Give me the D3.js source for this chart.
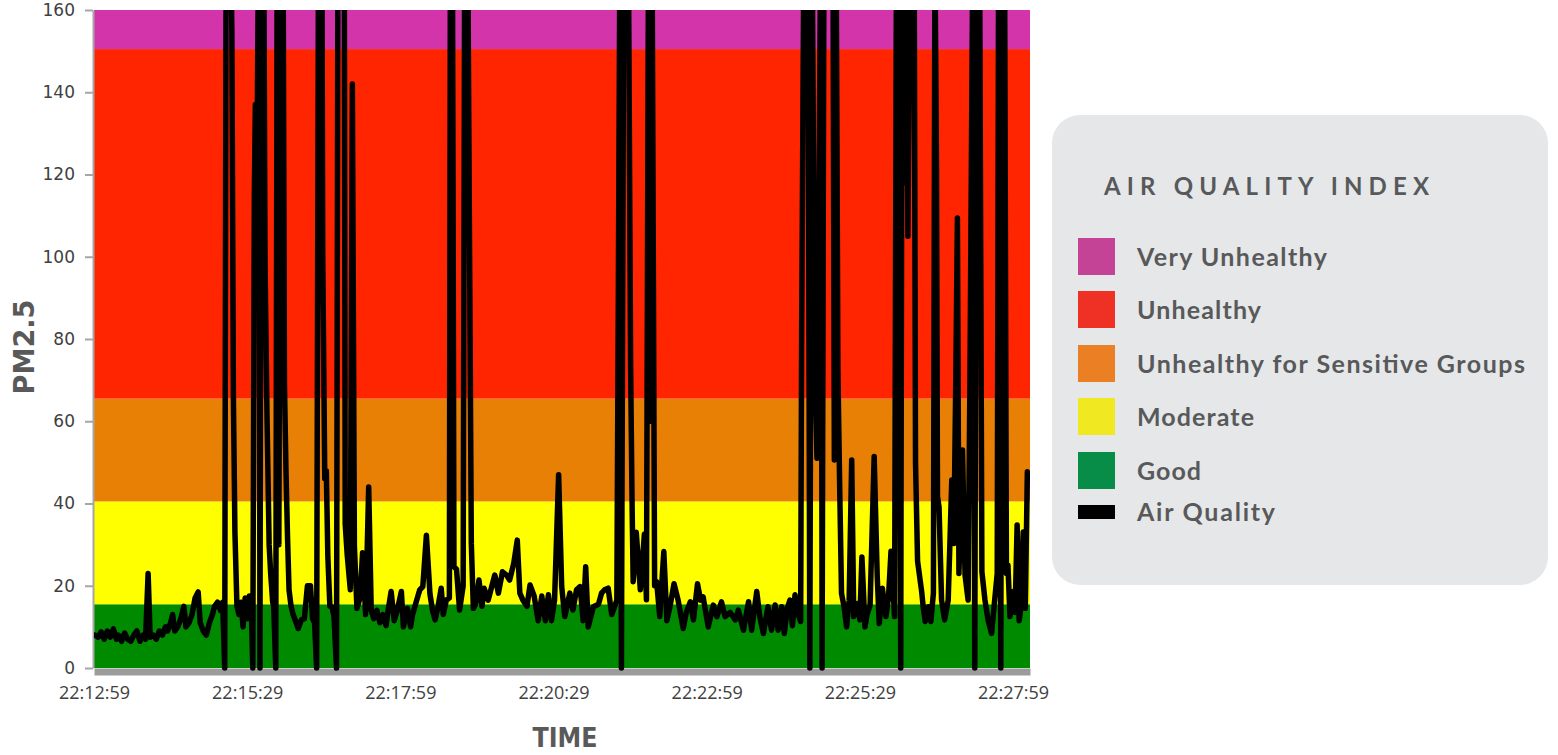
<html>
<head>
<title>PM2.5 - air quality over time</title>
<script src="https://d3js.org/d3.v7.min.js"></script>
<style>
  body { margin: 0; background: #fff; }
  .y.axis .domain { stroke: #a6a6a6; stroke-width: 2; }
  .y.axis line { stroke: #a6a6a6; stroke-width: 2; }
  .y.axis text { font-family: "DejaVu Sans", sans-serif; font-size: 17px; fill: #404040; }
  .x.axis .domain { stroke: #9c9c9c; stroke-width: 7; }
  .x.axis text { font-family: "Open Sans", sans-serif; font-size: 18px; fill: #404040; }
</style>
</head>
<body>
<svg id="chart" width="1558" height="755"></svg>
<script>
// ---- data ----
const startTime = "22:12:59";
const endOffset = 916.6; // seconds shown after the start
const tickLabels = ["22:12:59", "22:15:29", "22:17:59", "22:20:29", "22:22:59", "22:25:29", "22:27:59"];
const yTicks = [0, 20, 40, 60, 80, 100, 120, 140, 160];

const bandNames = ["Good", "Moderate", "Unhealthy for Sensitive Groups", "Unhealthy", "Very Unhealthy"];
const bandLow = [0, 15.5, 40.5, 65.5, 150.5];
const bandHigh = [15.5, 40.5, 65.5, 150.5, 160];
const bandColors = ["#008a00", "#ffff00", "#e88006", "#ff2500", "#d434aa"];

const legendNames = ["Very Unhealthy", "Unhealthy", "Unhealthy for Sensitive Groups", "Moderate", "Good", "Air Quality"];
const legendColors = ["#c54397", "#ee3124", "#ea7f24", "#f0e922", "#078d47", "#000000"];

// seconds after 22:12:59
const secs = [
  1, 4, 7, 10, 13, 16, 19, 22, 24, 27,
  30, 33, 36, 39, 42, 45, 48, 50.5, 53, 55,
  58, 61, 64, 67, 70, 72, 75, 77, 79, 82,
  85, 88, 90, 93, 96, 99, 102, 104, 107, 110,
  113, 116, 118, 121, 124, 126, 128, 129.5, 133, 135,
  136.5, 138, 140, 142, 144, 146, 148, 150, 152, 154,
  155.5, 157, 158, 160, 161.5, 162.5, 164, 166, 167.5, 169.5,
  171.5, 173, 175, 176, 178, 179.5, 181, 183, 185, 186.5,
  188, 189.5, 191, 193, 195, 198, 200, 203, 206, 209,
  212, 214, 216, 218, 220, 221, 223, 224, 226, 227.5,
  229, 231, 233, 235, 237.5, 239, 245, 246, 248, 251,
  253, 255, 257.5, 260.5, 263, 266, 269, 271.5, 274, 277,
  280, 283, 286, 288, 291, 294, 297, 301, 303, 305.5,
  307, 310, 312, 316, 319, 322, 325.5, 329, 331.5, 334,
  337, 340, 342, 345, 348, 349, 351, 352.5, 355, 358,
  361.5, 363, 366, 369.5, 371.5, 374, 377, 380, 382, 386,
  389.5, 392.5, 396, 400, 404, 407, 411, 414.5, 417, 420,
  424, 427, 431, 435, 438.5, 442, 445, 448, 451, 455,
  458, 461, 466, 469, 472.5, 476, 479, 481.5, 484, 489,
  494, 497, 500, 503.5, 507, 512, 513.5, 515, 516.5, 519,
  523, 525.5, 527, 528, 531, 535, 539, 541, 543, 545,
  546.5, 549, 551, 554, 558, 561, 564, 568, 572, 577,
  580, 584, 587, 591, 594, 596.5, 601.5, 606.5, 610, 614.5,
  618, 623, 628, 631, 636, 641, 644, 649, 652, 655.5,
  660, 663.5, 667, 670, 673.5, 676, 679, 681.5, 684, 686.5,
  689.5, 692, 693, 695.5, 699, 701, 703, 705.5, 708, 710,
  712, 713, 715, 723.5, 725, 726.5, 728.5, 730, 732, 734.5,
  737, 739.5, 742, 744, 747.5, 750, 752, 755, 757, 760,
  764, 767, 769, 772, 775.5, 778, 780.5, 784, 786, 788,
  790, 791.5, 793, 795, 797, 800, 803, 804.5, 806.5, 810.5,
  812, 814, 817, 819.5, 822, 823.5, 825, 826, 827.5, 830,
  833, 836.5, 840, 842, 844, 845.5, 847, 850.5, 853, 856,
  858, 861, 862.5, 864.5, 867, 869.5, 872.5, 875.5, 879, 882,
  884.5, 886, 888, 889.5, 891.5, 893.5, 895, 897, 900, 902,
  904, 906, 908.5, 910, 912, 914
];

// PM2.5 readings (the ones over 160 run off the top of the chart)
const pm25 = [
  8, 7.5, 8.8, 7, 9, 7.5, 9.5, 7, 8, 6.5,
  8.5, 7, 6.5, 8, 9, 6.5, 8, 7, 23, 7.5,
  8, 7, 9, 8, 10, 9, 11, 13, 9, 10,
  12, 15, 10, 11, 13, 17, 18.5, 11, 9, 8,
  11, 13, 15, 16, 14, 16, 0, 190, 190, 155,
  66, 33, 15, 13, 16, 10, 17, 12, 17.5, 15,
  0, 115, 137, 137, 190, 0, 190, 190, 98, 60,
  30, 23, 16, 15, 0, 190, 30, 190, 190, 69,
  48, 32, 19, 15, 13, 11, 9.6, 11.7, 12, 20,
  20, 12, 11, 0, 190, 89, 190, 100, 46, 48,
  27, 15, 14.9, 12.6, 0, 190, 190, 35, 27.4, 19,
  142, 29.5, 14.5, 17, 28, 13, 44, 14, 12, 14,
  11, 13, 10.3, 14, 18.6, 11.5, 14, 18.6, 10, 13,
  14.5, 10, 13, 16.5, 19, 19.8, 32.3, 18, 14, 11.7,
  15, 19.4, 13, 16.5, 17, 175, 175, 24.6, 24, 14.1,
  20, 175, 175, 30.3, 14.5, 15.7, 21.4, 15, 19.4, 16.5,
  19.8, 22.6, 18.2, 23.4, 22.6, 21.4, 25.4, 31.1, 18.2, 16.5,
  15, 20.2, 17.5, 11.5, 17.5, 11.5, 17.8, 11.5, 16.5, 47,
  19.8, 12.5, 18.2, 14.1, 19, 19.8, 11.5, 24.6, 10, 14.9,
  15.5, 18.2, 19, 19.4, 13, 16.5, 93, 175, 0, 190,
  190, 73, 38.4, 21, 33, 19, 32.6, 16.6, 175, 60,
  175, 20, 21, 12.5, 28.3, 11.5, 14.9, 20.5, 16.5, 9.6,
  13.5, 16.1, 11.7, 20.5, 16.5, 17.3, 10, 15.3, 12.5, 16.1,
  12.5, 13.5, 11.7, 14.1, 9.2, 16.1, 9.2, 18.6, 12.5, 8.4,
  14.9, 9.2, 15.3, 9.2, 14.9, 8.4, 14.5, 16.5, 10.3, 17.8,
  13, 11.3, 82, 190, 190, 0, 190, 79, 51, 117.4,
  190, 0, 190, 190, 50.6, 190, 72, 47.6, 18.2, 14.9,
  10, 16.5, 50.6, 12.5, 15.7, 11.7, 27, 10, 13, 15.3,
  51.4, 22.2, 10.8, 19.4, 12.5, 17, 28.4, 12.5, 190, 190,
  0, 190, 118, 190, 105, 190, 190, 50, 26, 18.6,
  14.9, 11.3, 14.9, 11.3, 18.2, 175, 122, 41.7, 39.2, 16.5,
  11.7, 16.5, 45.7, 30.3, 71.7, 109.4, 23, 53, 22.6, 16.5,
  77.8, 190, 0, 190, 190, 23.4, 16.5, 11.7, 8.4, 16.5,
  23, 190, 0, 190, 190, 23, 25, 12.5, 18.6, 13.5,
  34.8, 11.5, 16.5, 33.1, 14.5, 47.7
];

// ---- setup ----
const svg = d3.select("#chart");
const width = +svg.attr("width");
const height = +svg.attr("height");
const margin = { top: 10, right: 528, bottom: 87, left: 94 };
const chartWidth = width - margin.left - margin.right;
const chartHeight = height - margin.top - margin.bottom;
const graph = svg.append("g").attr("transform", `translate(${margin.left},${margin.top})`);

const parseTime = d3.timeParse("%H:%M:%S");
const t0 = parseTime(startTime);
const toDate = s => new Date(+t0 + s * 1000);

const xScale = d3.scaleTime()
  .domain([t0, toDate(endOffset)])
  .range([0, chartWidth]);

const yScale = d3.scaleLinear()
  .domain([0, 160])
  .range([chartHeight, 0]);

// AQI colour bands behind the line
graph.selectAll("rect.band")
  .data(bandNames)
  .join("rect")
  .attr("class", "band")
  .attr("x", 0)
  .attr("width", chartWidth)
  .attr("y", (d, i) => yScale(bandHigh[i]))
  .attr("height", (d, i) => yScale(bandLow[i]) - yScale(bandHigh[i]))
  .attr("fill", (d, i) => bandColors[i]);

// axes
const bottomAxis = d3.axisBottom(xScale)
  .tickValues(tickLabels.map(parseTime))
  .tickFormat(d3.timeFormat("%H:%M:%S"))
  .tickSize(0)
  .tickSizeOuter(0)
  .tickPadding(15);

graph.append("g")
  .attr("class", "x axis")
  .attr("transform", `translate(0,${chartHeight + 3.5})`)
  .call(bottomAxis);

const leftAxis = d3.axisLeft(yScale)
  .tickValues(yTicks)
  .tickSize(8)
  .tickSizeOuter(0)
  .tickPadding(10);

graph.append("g")
  .attr("class", "y axis")
  .attr("transform", "translate(-1,0)")
  .call(leftAxis);

// the line, clipped to the plot so the big spikes run off the top
svg.append("defs").append("clipPath")
  .attr("id", "plotClip")
  .append("rect")
  .attr("x", 0).attr("y", 0)
  .attr("width", chartWidth)
  .attr("height", chartHeight + 3);

const points = secs.map((s, i) => ({ s: s, v: pm25[i] }));

const lineGen = d3.line()
  .x(d => xScale(toDate(d.s)))
  .y(d => yScale(d.v));

graph.append("path")
  .datum(points)
  .attr("clip-path", "url(#plotClip)")
  .attr("d", lineGen)
  .attr("fill", "none")
  .attr("stroke", "#000")
  .attr("stroke-width", 5.5)
  .attr("stroke-linejoin", "round")
  .attr("stroke-linecap", "round");

// axis titles
svg.append("text")
  .attr("transform", "translate(24,347) rotate(-90)")
  .attr("text-anchor", "middle")
  .attr("dominant-baseline", "central")
  .attr("font-family", "DejaVu Sans, sans-serif")
  .attr("font-weight", "bold")
  .attr("font-size", 29)
  .attr("textLength", 95)
  .attr("lengthAdjust", "spacingAndGlyphs")
  .attr("fill", "#595959")
  .text("PM2.5");

svg.append("text")
  .attr("x", 565)
  .attr("y", 747)
  .attr("text-anchor", "middle")
  .attr("font-family", "DejaVu Sans, sans-serif")
  .attr("font-weight", "bold")
  .attr("font-size", 27)
  .attr("textLength", 65)
  .attr("lengthAdjust", "spacingAndGlyphs")
  .attr("fill", "#595959")
  .text("TIME");

// ---- legend box ----
const legend = svg.append("g").attr("transform", "translate(1052,115)");

legend.append("rect")
  .attr("width", 496)
  .attr("height", 470)
  .attr("rx", 28)
  .attr("fill", "#e6e7e8");

legend.append("text")
  .attr("x", 52)
  .attr("y", 80)
  .attr("font-family", "Lato, sans-serif")
  .attr("font-weight", "bold")
  .attr("font-size", 24)
  .attr("textLength", 325)
  .attr("fill", "#58595b")
  .text("AIR QUALITY INDEX");

const labelWidths = [190, 124, 388, 117, 64, 138];
const rowY = [123, 176, 230, 283, 337, 390]; // top of each swatch

const rows = legend.selectAll("g.row")
  .data(legendNames)
  .join("g")
  .attr("class", "row")
  .attr("transform", (d, i) => `translate(26,${rowY[i]})`);

rows.append("rect")
  .attr("width", 37)
  .attr("height", (d, i) => i === 5 ? 14 : 37)
  .attr("fill", (d, i) => legendColors[i]);

rows.append("text")
  .attr("x", 59)
  .attr("y", (d, i) => i === 5 ? 16 : 28)
  .attr("font-family", "Lato, sans-serif")
  .attr("font-weight", "bold")
  .attr("font-size", 25)
  .attr("textLength", (d, i) => labelWidths[i])
  .attr("fill", "#58595b")
  .text(d => d);
</script>
</body>
</html>
